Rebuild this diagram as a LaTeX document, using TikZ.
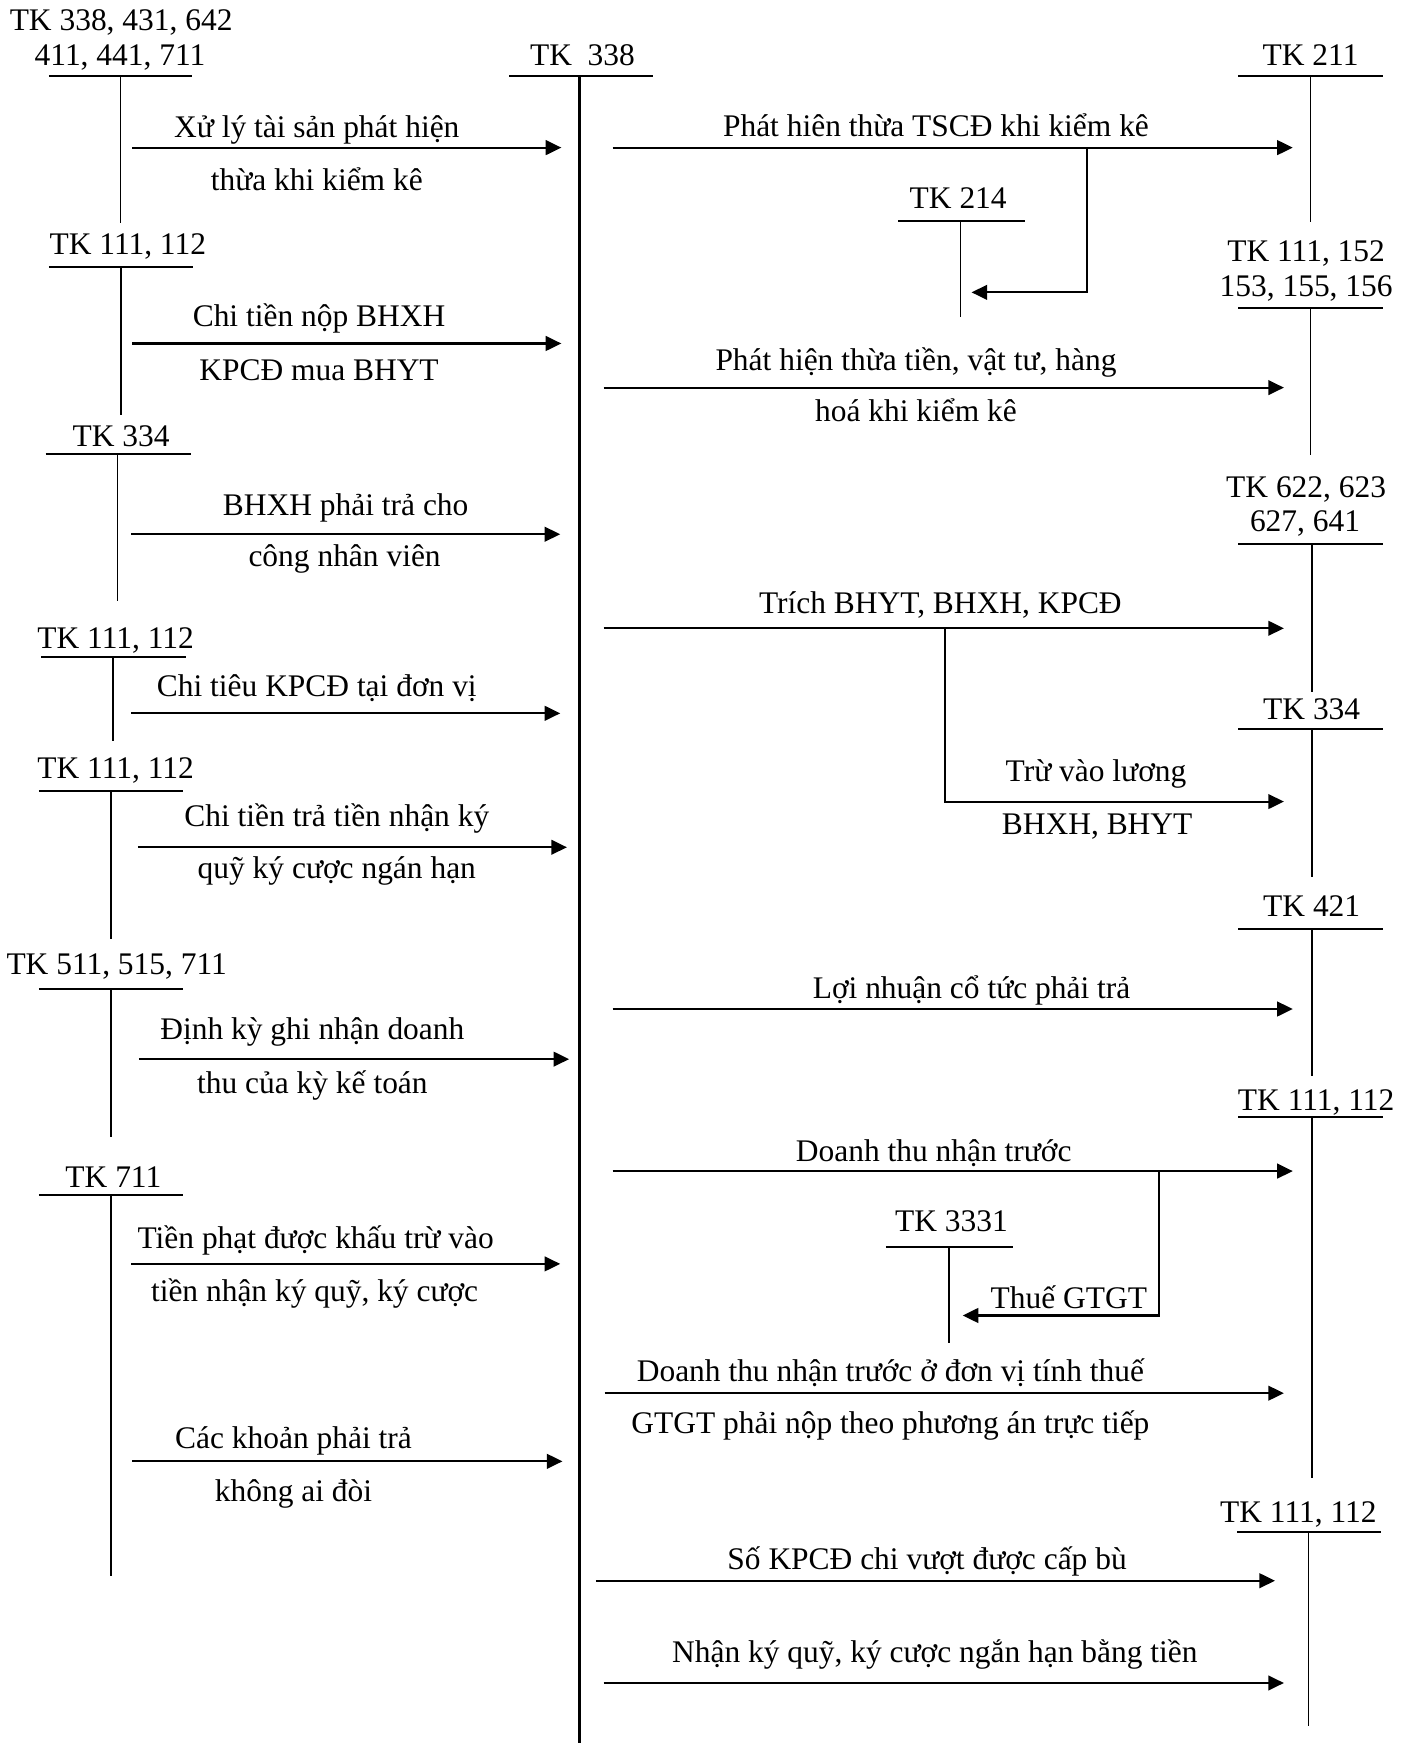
\documentclass[tikz,border=0pt]{standalone}
\usepackage{fontspec}
\setmainfont{Liberation Serif}
\usetikzlibrary{arrows.meta}

\begin{document}
\begin{tikzpicture}[x=0.2mm, y=-0.2mm, >={Triangle[length=8pt, width=7.5pt]},
	every node/.style={font=\fontsize{16.1}{19}\selectfont, inner sep=0pt},
	lbl/.style={anchor=base},
	flow/.style={->, line width=1.1pt},
	acct/.style={line width=1pt},
	stem/.style={line width=0.9pt}]
	\useasboundingbox (0,0) rectangle (1270,1568);

	% TK 338 in the middle
	\node[lbl] (tk338) at (524,59) {TK\ \ 338};
	\draw[acct] (458,68) -- (587,68);
	\draw[line width=1.4pt] (521,68) -- (521,1568);

	% accounts on the left
	\node[lbl] (lA) at (109,27.6) {TK 338, 431, 642};
	\node[lbl] (lAb) at (108,59) {411, 441, 711};
	\draw[acct] (44,68) -- (173,68);
	\draw[stem] (108.5,68) -- (108.5,201);

	\node[lbl] (lB) at (115,229) {TK 111, 112};
	\draw[acct] (44,240.5) -- (174,240.5);
	\draw[stem] (109,240.5) -- (109,373);

	\node[lbl] (lC) at (109,402) {TK 334};
	\draw[acct] (41,408.4) -- (172,408.4);
	\draw[stem] (105.6,408.4) -- (105.6,541);

	\node[lbl] (lD) at (104,583.2) {TK 111, 112};
	\draw[acct] (37,591.3) -- (167,591.3);
	\draw[stem] (101.6,591.3) -- (101.6,667);

	\node[lbl] (lE) at (104,700.1) {TK 111, 112};
	\draw[acct] (35,711.2) -- (165,711.2);
	\draw[stem] (99.6,711.2) -- (99.6,845);

	\node[lbl] (lF) at (105,877) {TK 511, 515, 711};
	\draw[acct] (35,889.6) -- (165,889.6);
	\draw[stem] (99.6,889.6) -- (99.6,1022.4);

	\node[lbl] (lG) at (102,1068) {TK 711};
	\draw[acct] (35,1075) -- (165,1075);
	\draw[stem] (99.6,1075) -- (99.6,1417.5);

	% accounts on the right
	\node[lbl] (rA) at (1179,58.5) {TK 211};
	\draw[acct] (1114,68) -- (1244,68);
	\draw[stem] (1179,68) -- (1179,200);

	\node[lbl] (tk214) at (862,188) {TK 214};
	\draw[acct] (808,198.8) -- (922,198.8);
	\draw[stem] (864,198.8) -- (864,285.5);

	\node[lbl] (rB) at (1175,235.4) {TK 111, 152};
	\node[lbl] (rBb) at (1175,267) {153, 155, 156};
	\draw[acct] (1114,277) -- (1244,277);
	\draw[stem] (1179,277) -- (1179,409.3);

	\node[lbl] (rC) at (1175,447.4) {TK 622, 623};
	\node[lbl] (rCb) at (1174,478.3) {627, 641};
	\draw[acct] (1114,489.3) -- (1244,489.3);
	\draw[stem] (1180,489.3) -- (1180,622.2);

	\node[lbl] (rD) at (1180,647.7) {TK 334};
	\draw[acct] (1114,656.1) -- (1244,656.1);
	\draw[stem] (1180,656.1) -- (1180,789.2);

	\node[lbl] (rE) at (1180,824.6) {TK 421};
	\draw[acct] (1114,835.9) -- (1244,835.9);
	\draw[stem] (1180,835.9) -- (1180,968.4);

	\node[lbl] (rF) at (1184,999) {TK 111, 112};
	\draw[acct] (1114,1005) -- (1244,1005);
	\draw[stem] (1180,1005) -- (1180,1329.6);

	\node[lbl] (tk3331) at (856,1108) {TK 3331};
	\draw[acct] (797,1122) -- (911,1122);
	\draw[stem] (853.6,1122) -- (853.6,1208.3);

	\node[lbl] (rG) at (1168,1370) {TK 111, 112};
	\draw[acct] (1113,1378.5) -- (1242,1378.5);
	\draw[stem] (1177,1378.5) -- (1177,1552.4);

	% flows into TK 338
	\draw[flow] (119,132.8) -- (505,132.8);
	\node[lbl] (f1a) at (285,124) {Xử lý tài sản phát hiện};
	\node[lbl] (f1b) at (285,171.5) {thừa khi kiểm kê};

	\draw[flow] (119,309) -- (505,309);
	\node[lbl] (f3a) at (287,294) {Chi tiền nộp BHXH};
	\node[lbl] (f3b) at (287,342) {KPCĐ mua BHYT};

	\draw[flow] (118,480.6) -- (504,480.6);
	\node[lbl] (f5a) at (311,463.3) {BHXH phải trả cho};
	\node[lbl] (f5b) at (310,509.7) {công nhân viên};

	\draw[flow] (118,641.7) -- (504,641.7);
	\node[lbl] (f7a) at (285,626.7) {Chi tiêu KPCĐ tại đơn vị};

	\draw[flow] (124,762.2) -- (510,762.2);
	\node[lbl] (f8a) at (303,743.6) {Chi tiền trả tiền nhận ký};
	\node[lbl] (f8b) at (303,790.1) {quỹ ký cược ngán hạn};

	\draw[flow] (125,952.8) -- (512,952.8);
	\node[lbl] (f10a) at (281,935.4) {Định kỳ ghi nhận doanh};
	\node[lbl] (f10b) at (281,983.4) {thu của kỳ kế toán};

	\draw[flow] (118,1137) -- (504,1137);
	\node[lbl] (f12a) at (284,1122.8) {Tiền phạt được khấu trừ vào};
	\node[lbl] (f12b) at (283,1170.8) {tiền nhận ký quỹ, ký cược};

	\draw[flow] (119,1314.6) -- (506,1314.6);
	\node[lbl] (f14a) at (264,1302.7) {Các khoản phải trả};
	\node[lbl] (f14b) at (264,1350.6) {không ai đòi};

	% flows out of TK 338
	\draw[flow] (551,132.8) -- (1163,132.8);
	\draw[flow] (978,132.8) -- (978,263) -- (874,263);
	\node[lbl] (f2a) at (842,123) {Phát hiên thừa TSCĐ khi kiểm kê};

	\draw[flow] (543,348.7) -- (1155,348.7);
	\node[lbl] (f4a) at (824,333) {Phát hiện thừa tiền, vật tư, hàng};
	\node[lbl] (f4b) at (824,379) {hoá khi kiểm kê};

	\draw[flow] (543,565.2) -- (1155,565.2);
	\draw[flow] (850,565.2) -- (850,721.1) -- (1155,721.1);
	\node[lbl] (f6a) at (846,551.7) {Trích BHYT, BHXH, KPCĐ};
	\node[lbl] (f6b) at (986,703.1) {Trừ vào lương};
	\node[lbl] (f6c) at (987,751.1) {BHXH, BHYT};

	\draw[flow] (551,907.7) -- (1163,907.7);
	\node[lbl] (f9a) at (874,898) {Lợi nhuận cổ tức phải trả};

	\draw[flow] (551,1053.5) -- (1163,1053.5);
	\draw[flow] (1043,1053.5) -- (1043,1183.4) -- (866,1183.4);
	\node[lbl] (f11a) at (840,1045) {Doanh thu nhận trước};
	\node[lbl] (f11b) at (961.5,1176.8) {Thuế GTGT};

	\draw[flow] (544,1253.3) -- (1155,1253.3);
	\node[lbl] (f13a) at (801,1242.8) {Doanh thu nhận trước ở đơn vị tính thuế};
	\node[lbl] (f13b) at (801,1289.2) {GTGT phải nộp theo phương án trực tiếp};

	\draw[flow] (536,1422) -- (1147,1422);
	\node[lbl] (f15a) at (834,1412) {Số KPCĐ chi vượt được cấp bù};

	\draw[flow] (543,1514) -- (1155,1514);
	\node[lbl] (f16a) at (841,1496) {Nhận ký quỹ, ký cược ngắn hạn bằng tiền};
\end{tikzpicture}
\end{document}
